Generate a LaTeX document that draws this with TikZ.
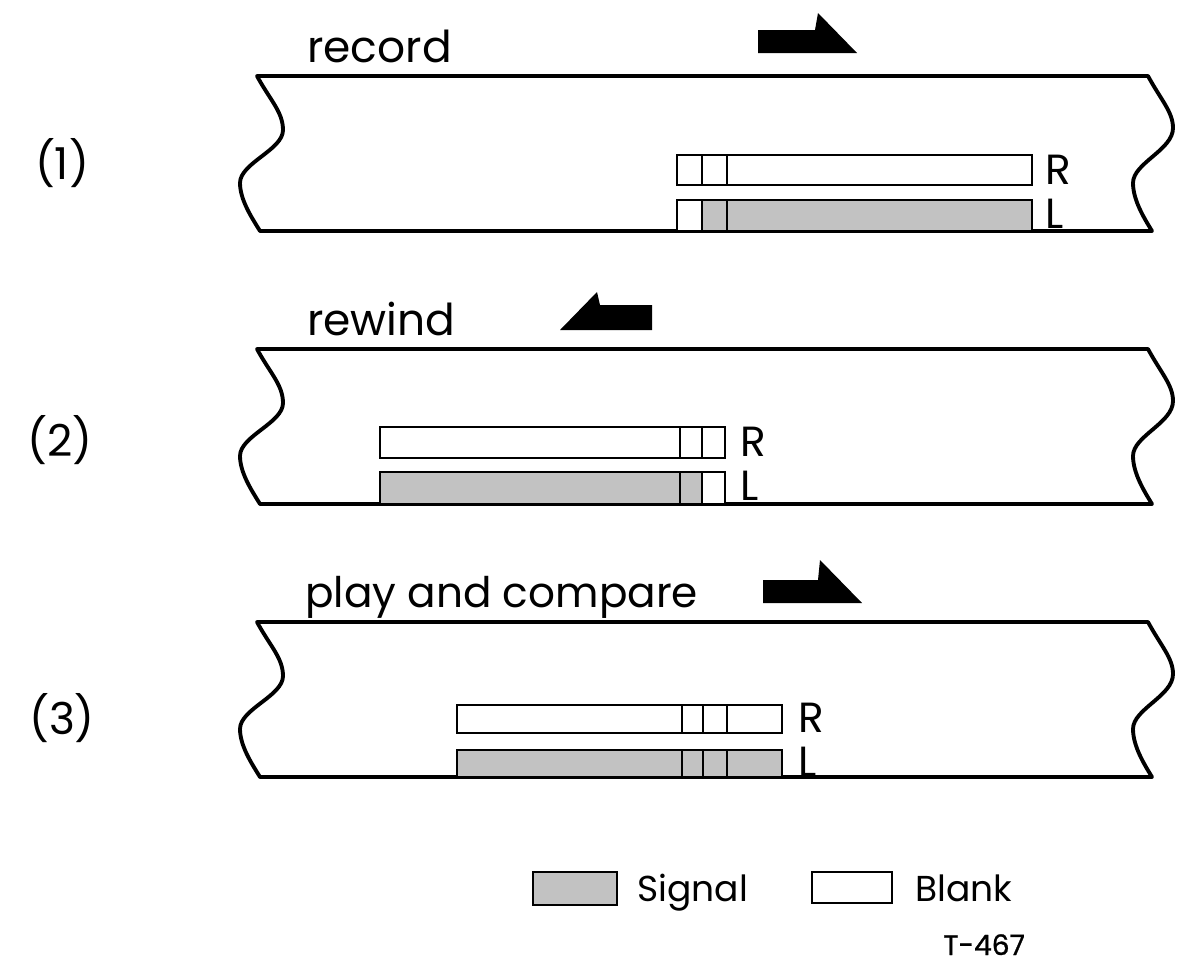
\documentclass[tikz,border=0pt]{standalone}
\usepackage{fontspec}
\setmainfont{Poppins}
\usetikzlibrary{positioning}
\begin{document}
\begin{tikzpicture}[x=0.02cm,y=-0.02cm,
  lbl/.style={font=\fontsize{25}{30}\selectfont,inner sep=0pt},
  rl/.style={font=\fontsize{24}{28}\selectfont,inner sep=0pt,anchor=west},
  leg/.style={font=\fontsize{20.5}{24}\selectfont,inner sep=0pt,anchor=base west},
  tape/.style={draw,line width=2.2pt,fill=white,line join=round},
  blk/.style={draw,line width=1.6pt,fill=white},
  sig/.style={draw,line width=1.6pt,fill=gray!48},
  dir/.style={fill=black}]
\useasboundingbox (0,0) rectangle (1193,968);
\foreach \ty in {0,273,546}{
  \draw[tape,shift={(0,\ty)}] (257,76) -- (1148,76)
    .. controls (1161,100) and (1173,112) .. (1173,128)
    .. controls (1173,150) and (1133,163) .. (1133,183)
    .. controls (1133,200) and (1144,218) .. (1152,231)
    -- (260,231)
    .. controls (252,218) and (240,200) .. (240,183)
    .. controls (240,163) and (283,150) .. (283,130)
    .. controls (283,112) and (270,100) .. (257,76) -- cycle;
}
% (1) record
\node[lbl,anchor=base west] (rec) at (307,62) {record};
\fill[dir] (758,30) -- (815,30) -- (818,13) -- (857,53) -- (758,53) -- cycle;
\node[lbl] (n1) at (62,163) {(1)};
\draw[blk] (677,155) rectangle (1032,185);
\draw[line width=1.6pt] (702,155) -- (702,185) (727,155) -- (727,185);
\draw[blk] (677,200) rectangle (702,231);
\draw[sig] (702,200) rectangle (727,231);
\draw[sig] (727,200) rectangle (1032,231);
\node[rl] (r1) at (1045,170) {R};
\node[rl] (l1) at (1045,214) {L};
% (2) rewind
\node[lbl,anchor=base west] (rew) at (307,335) {rewind};
\fill[dir] (560,330) -- (597,292) -- (600,305) -- (652,305) -- (652,330) -- cycle;
\node[lbl] (n2) at (60,440) {(2)};
\draw[blk] (380,427) rectangle (725,458);
\draw[line width=1.6pt] (680,427) -- (680,458) (702,427) -- (702,458);
\draw[sig] (380,472) rectangle (680,504);
\draw[sig] (680,472) rectangle (702,504);
\draw[blk] (702,472) rectangle (725,504);
\node[rl] (r2) at (740,442) {R};
\node[rl] (l2) at (740,486) {L};
% (3) play and compare
\node[lbl,anchor=base west,font=\fontsize{24}{29}\selectfont] (pla) at (305,607) {play and compare};
\fill[dir] (763,580) -- (818,580) -- (820,560) -- (862,603) -- (763,603) -- cycle;
\node[lbl] (n3) at (62,718) {(3)};
\draw[blk] (457,705) rectangle (782,733);
\draw[line width=1.6pt] (682,705) -- (682,733) (703,705) -- (703,733) (727,705) -- (727,733);
\draw[sig] (457,750) rectangle (682,777);
\draw[sig] (682,750) rectangle (703,777);
\draw[sig] (703,750) rectangle (727,777);
\draw[sig] (727,750) rectangle (782,777);
\node[rl] (r3) at (798,718) {R};
\node[rl] (l3) at (798,762) {L};
% legend
\draw[sig] (533,872) rectangle (617,905);
\node[leg] (sg) at (637,901) {Signal};
\draw[blk] (812,872) rectangle (892,903);
\node[leg] (bl) at (915,901) {Blank};
\node[leg,font=\fontsize{16}{19}\selectfont\addfontfeature{FakeBold=1}] (fig) at (943,955) {T-467};
\end{tikzpicture}
\end{document}
